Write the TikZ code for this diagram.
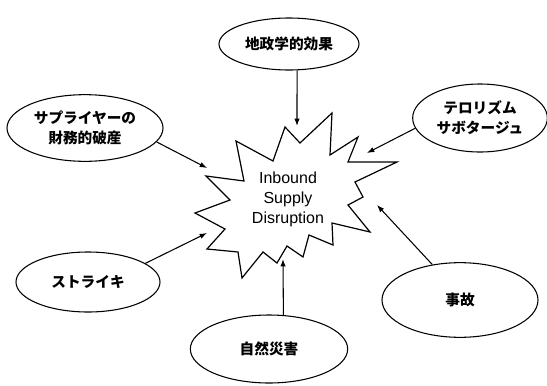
\documentclass[tikz,border=0pt]{standalone}
\usepackage{fontspec}
\setmainfont{Liberation Sans}
\newfontfamily\jp{Noto Sans CJK JP}
\usetikzlibrary{shapes.geometric,arrows.meta}
\tikzset{
  cause/.style={draw,ellipse,line width=0.8pt,inner sep=0pt,align=center,
    font=\jp\bfseries\fontsize{11}{15}\selectfont},
  link/.style={line width=0.8pt,-{Latex[length=5.5pt,width=4pt]}},
  burst/.style={draw,line width=0.9pt,line join=miter},
}
\begin{document}
\begin{tikzpicture}[x=0.75pt,y=-0.75pt]
\useasboundingbox (0,0) rectangle (547,386);
% causes
\node[cause,minimum width=105pt,minimum height=39pt] (geo) at (289,44) {地政学的効果};
\node[cause,minimum width=117pt,minimum height=50pt] (sup) at (85,128) {サプライヤーの\\財務的破産};
\node[cause,minimum width=101pt,minimum height=51pt] (ter) at (480,118) {テロリズム\\サボタージュ};
\node[cause,minimum width=108pt,minimum height=45pt] (str) at (88,282) {ストライキ};
\node[cause,minimum width=117pt,minimum height=56pt] (acc) at (460,300) {事故};
\node[cause,minimum width=118pt,minimum height=51pt] (nat) at (269,349) {自然災害};
% starburst
\draw[burst] (285,127) -- (300,143) -- (332,113) -- (330,155) -- (358,137) -- (348,162)
  -- (397,162) -- (355,182) -- (363,197) -- (348,205) -- (370,232) -- (332,223)
  -- (333,245) -- (309,235) -- (303,257) -- (287,246) -- (277,263) -- (263,252)
  -- (242,278) -- (238,252) -- (207,249) -- (225,229) -- (195,213) -- (230,200)
  -- (206,176) -- (244,181) -- (236,141) -- (273,161) -- cycle;
\node[align=center,font=\fontsize{12}{15}\selectfont] (isd) at (288,199) {Inbound\\Supply\\Disruption};
% arrow tips
\coordinate (tgeo) at (297,126);
\coordinate (tsup) at (207,168);
\coordinate (tter) at (367,153);
\coordinate (tstr) at (207,233);
\coordinate (tacc) at (377,205);
\coordinate (tnat) at (283,259);
% connectors
\draw[link] (geo.-73) -- (tgeo);
\draw[link] (sup.-11) -- (tsup);
\draw[link] (ter.189) -- (tter);
\draw[link] (str.18) -- (tstr);
\draw[link] (acc.128) -- (tacc);
\draw[link] (nat.67) -- (tnat);
\end{tikzpicture}
\end{document}
